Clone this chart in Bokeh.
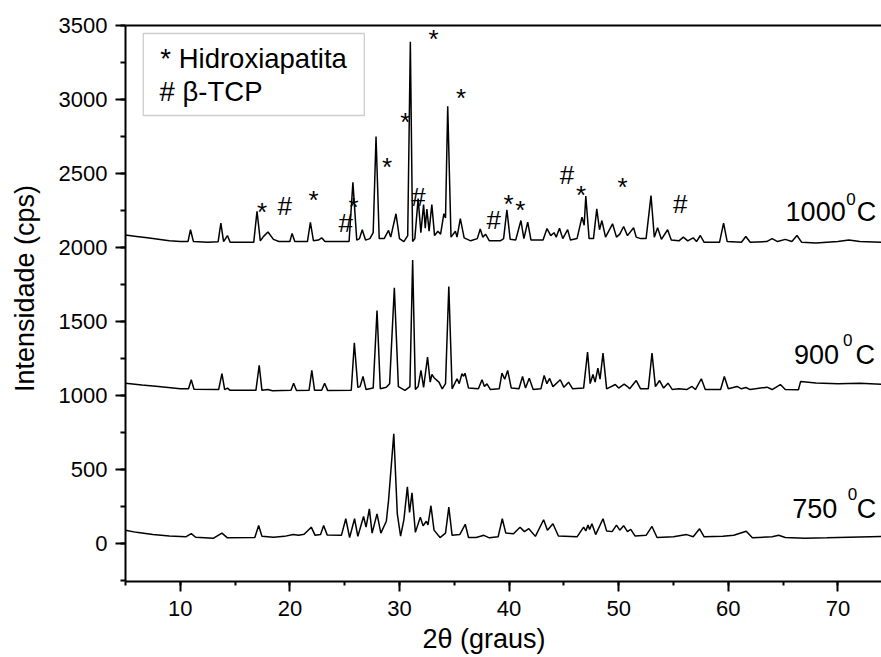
from bokeh.plotting import figure
from bokeh.models import (LinearAxis, SingleIntervalTicker, FixedTicker, BoxAnnotation,
                          Label, Range1d, Title)
from bokeh.core.properties import value
from bokeh.embed import file_html
from bokeh.resources import INLINE

FONT = "Liberation Sans"

# ---------------- data ----------------
t1000_x = [5.0, 6.0, 7.0, 8.0, 9.0, 10.0, 10.7, 10.93, 11.2, 12.5, 13.45, 13.7, 13.95, 14.3, 14.55,
           16.7, 17.0, 17.3, 17.6, 18.0, 18.5, 19.0, 20.0, 20.2, 20.45, 21.6, 21.87, 22.15, 22.6,
           22.9, 23.2, 25.4, 25.75, 26.1, 26.35, 26.6, 26.9, 27.3, 27.6, 27.86, 28.15, 28.6, 29.0,
           29.2, 29.68, 30.0, 30.4, 30.75, 30.99, 31.2, 31.4, 31.7, 31.95, 32.2, 32.35, 32.5, 32.7,
           32.95, 33.2, 33.5, 33.75, 34.05, 34.2, 34.4, 34.7, 35.1, 35.25, 35.55, 35.9, 36.5, 37.1,
           37.37, 37.6, 37.85, 38.2, 39.2, 39.5, 39.8, 40.1, 40.6, 41.08, 41.35, 41.7, 42.0, 43.1,
           43.46, 43.8, 44.1, 44.3, 44.6, 44.9, 45.34, 45.6, 46.2, 46.65, 46.85, 47.0, 47.3, 47.7,
           48.0, 48.25, 48.47, 48.8, 49.44, 49.8, 50.1, 50.45, 50.8, 51.36, 51.6, 52.0, 52.5, 52.95,
           53.25, 53.55, 53.9, 54.46, 54.8, 55.5, 55.9, 56.3, 56.8, 57.1, 57.45, 57.8, 59.2, 59.57,
           59.9, 61.2, 61.6, 62.0, 63.5, 64.0, 64.5, 65.2, 65.8, 66.27, 66.7, 68.0, 70.0, 71.0, 72.0,
           74.0]
t1000_y = [2085, 2075, 2065, 2055, 2045, 2040, 2040, 2120, 2040, 2035, 2038, 2165, 2040, 2080, 2035,
           2035, 2245, 2045, 2075, 2105, 2055, 2040, 2040, 2095, 2040, 2040, 2170, 2045, 2050,
           2065, 2040, 2040, 2440, 2050, 2060, 2120, 2050, 2060, 2100, 2750, 2060, 2060, 2115,
           2070, 2228, 2060, 2040, 2080, 3390, 2040, 2060, 2330, 2100, 2290, 2130, 2260, 2110,
           2290, 2080, 2110, 2090, 2228, 2200, 2955, 2070, 2110, 2070, 2195, 2065, 2045, 2060,
           2125, 2070, 2090, 2045, 2045, 2060, 2255, 2055, 2050, 2182, 2060, 2171, 2050, 2050,
           2128, 2080, 2100, 2070, 2130, 2060, 2121, 2050, 2060, 2205, 2150, 2347, 2060, 2060,
           2261, 2120, 2182, 2070, 2160, 2070, 2090, 2142, 2080, 2133, 2070, 2060, 2060, 2351,
           2070, 2133, 2055, 2120, 2050, 2045, 2070, 2045, 2065, 2040, 2081, 2035, 2035, 2164,
           2040, 2035, 2074, 2035, 2040, 2060, 2040, 2055, 2040, 2081, 2035, 2030, 2040, 2050, 2040,
           2035]

t900_x = [5.0, 6.5, 8.0, 10.0, 10.75, 11.0, 11.25, 13.5, 13.8, 14.05, 14.3, 14.55, 16.9, 17.2, 17.45,
          18.0, 18.4, 20.1, 20.34, 20.6, 21.75, 22.0, 22.25, 22.9, 23.17, 23.45, 25.6, 25.88, 26.2,
          26.4, 26.67, 26.95, 27.6, 27.95, 28.25, 28.8, 29.1, 29.53, 29.9, 30.5, 30.95, 31.2, 31.45,
          31.7, 31.96, 32.2, 32.56, 32.8, 32.96, 33.15, 33.6, 33.9, 34.2, 34.5, 34.8, 35.25, 35.45,
          35.7, 35.85, 35.98, 36.3, 37.2, 37.53, 37.75, 37.98, 38.3, 39.1, 39.35, 39.6, 39.87, 40.2,
          40.9, 41.23, 41.5, 41.84, 42.2, 42.9, 43.2, 43.45, 43.7, 44.0, 44.67, 45.0, 45.43, 45.8,
          46.8, 47.16, 47.4, 47.65, 47.85, 48.1, 48.3, 48.57, 48.9, 49.69, 50.0, 50.5, 50.8, 51.0,
          51.6, 52.0, 52.7, 53.04, 53.35, 53.73, 54.1, 54.5, 54.9, 55.5, 56.2, 56.69, 57.0, 57.54,
          57.9, 59.3, 59.64, 60.0, 60.8, 61.2, 61.6, 62.0, 63.53, 64.0, 64.75, 65.2, 66.4, 66.6,
          68.0, 70.0, 72.0, 74.0]
t900_y = [1083, 1070, 1060, 1045, 1045, 1106, 1042, 1040, 1147, 1040, 1050, 1035, 1035, 1203, 1035,
          1040, 1032, 1035, 1083, 1033, 1035, 1169, 1035, 1035, 1083, 1033, 1035, 1356, 1055,
          1060, 1128, 1040, 1050, 1574, 1045, 1055, 1080, 1728, 1060, 1035, 1060, 1915, 1040,
          1060, 1169, 1055, 1259, 1090, 1142, 1120, 1090, 1045, 1080, 1737, 1045, 1113, 1080,
          1147, 1130, 1150, 1050, 1045, 1106, 1060, 1079, 1040, 1045, 1151, 1110, 1169, 1050,
          1045, 1128, 1050, 1117, 1040, 1045, 1135, 1080, 1115, 1060, 1106, 1055, 1090, 1045,
          1050, 1293, 1080, 1142, 1090, 1185, 1110, 1286, 1045, 1074, 1050, 1076, 1060, 1045,
          1101, 1045, 1045, 1286, 1060, 1101, 1050, 1083, 1040, 1045, 1040, 1061, 1040, 1113,
          1040, 1040, 1128, 1045, 1061, 1045, 1054, 1040, 1056, 1040, 1074, 1040, 1038, 1095,
          1085, 1080, 1082, 1075]

t750_x = [5.0, 6.0, 7.5, 9.0, 10.5, 11.0, 11.4, 13.0, 13.8, 14.3, 16.8, 17.15, 17.45, 18.5, 19.5,
          20.3, 20.8, 21.3, 21.95, 22.3, 22.8, 23.08, 23.4, 24.7, 25.1, 25.45, 25.9, 26.2, 26.72,
          26.95, 27.25, 27.5, 27.95, 28.3, 28.8, 29.0, 29.48, 29.8, 30.1, 30.4, 30.72, 30.92, 31.14,
          31.45, 31.9, 32.15, 32.45, 32.6, 32.87, 33.15, 33.7, 34.2, 34.5, 34.8, 35.5, 36.0, 36.3,
          37.0, 37.7, 38.2, 39.0, 39.38, 39.7, 40.4, 41.0, 41.4, 41.8, 42.4, 43.15, 43.5, 44.0,
          44.5, 46.2, 46.8, 47.0, 47.2, 47.35, 47.56, 47.9, 48.57, 48.9, 49.4, 49.8, 50.1, 50.45,
          50.8, 51.1, 51.5, 52.5, 53.04, 53.5, 55.0, 56.2, 56.8, 57.38, 57.8, 59.5, 60.5, 61.64,
          62.2, 64.0, 64.6, 65.2, 67.0, 69.0, 71.0, 74.0]
t750_y = [90, 75, 60, 50, 45, 66, 42, 35, 70, 38, 40, 122, 48, 42, 48,
          60, 55, 62, 110, 55, 60, 122, 58, 55, 167, 40, 167, 48, 182,
          110, 234, 70, 200, 70, 150, 290, 741, 200, 50, 160, 382, 210, 342,
          75, 178, 120, 150, 125, 255, 90, 40, 70, 245, 55, 60, 130, 40,
          40, 55, 38, 45, 167, 70, 65, 110, 80, 100, 48, 160, 90, 133,
          50, 45, 110, 85, 124, 95, 133, 60, 167, 85, 80, 124, 90, 120,
          80, 95, 50, 55, 115, 40, 45, 60, 45, 99, 45, 48, 55, 83,
          38, 45, 55, 40, 35, 38, 42, 48]

# phase markers above the 1000 C pattern
marker_sym = ["*", "#", "*", "#", "*", "*", "*", "#", "*", "*", "#", "*", "*", "#", "*", "*", "#"]
marker_x = [17.45, 19.52, 22.16, 25.10, 25.81, 28.86, 30.53, 31.74, 33.11, 35.61, 38.59, 39.95,
            41.02, 45.28, 46.56, 50.36, 55.62]
marker_y = [2239, 2278, 2318, 2164, 2273, 2543, 2847, 2339, 3410, 3009, 2188, 2291,
            2255, 2492, 2352, 2412, 2294]

x_ticks_interval = 10
y_ticks_interval = 500

# ---------------- figure ----------------
p = figure(width=881, height=657, output_backend="svg", toolbar_location=None,
           x_range=Range1d(5, 73.98), y_range=Range1d(-257, 3500),
           min_border_left=125, min_border_right=0, min_border_top=25, min_border_bottom=76)
p.outline_line_color = None
p.grid.visible = False
p.background_fill_color = "white"

for xs, ys in ((t750_x, t750_y), (t900_x, t900_y), (t1000_x, t1000_y)):
    p.line(xs, ys, line_color="black", line_width=1.5)

p.text(x=marker_x, y=marker_y, text=marker_sym, text_font=value(FONT), text_font_size="26px",
       text_align="center", text_baseline="alphabetic", text_color="black")

# axes styling
for ax, interval in ((p.xaxis[0], x_ticks_interval), (p.yaxis[0], y_ticks_interval)):
    ax.ticker = SingleIntervalTicker(interval=interval, num_minor_ticks=2)
    ax.axis_line_width = 2
    ax.major_tick_line_width = 2
    ax.minor_tick_line_width = 2
    ax.major_tick_in = 0
    ax.minor_tick_in = 0
    ax.major_tick_out = 10
    ax.major_label_text_font = FONT
    ax.major_label_text_font_size = "22px"
    ax.major_label_text_color = "black"

p.xaxis.minor_tick_out = 4
p.yaxis.minor_tick_out = 5
p.xaxis.major_label_standoff = 9
p.yaxis.major_label_standoff = 8

top = LinearAxis(ticker=FixedTicker(ticks=[]), axis_line_width=2, major_tick_out=0, minor_tick_out=0,
                 major_tick_in=0, minor_tick_in=0, major_label_text_font_size="0px",
                 major_label_standoff=0)
p.add_layout(top, "above")

# y title on a tick-less helper axis; the no-break spaces lift it to where the original sits
ytitle = LinearAxis(ticker=FixedTicker(ticks=[]), axis_line_color=None,
                    major_tick_out=0, minor_tick_out=0, major_tick_in=0, minor_tick_in=0,
                    major_label_text_font_size="0px", major_label_standoff=0,
                    axis_label="\u00a0\u00a0\u00a0\u00a0Intensidade (cps)", axis_label_text_font=FONT,
                    axis_label_text_font_size="27px", axis_label_text_font_style="normal",
                    axis_label_text_color="black", axis_label_standoff=16)
p.add_layout(ytitle, "left")

# x title, placed as in the original (not centred on the frame)
p.add_layout(Title(text="2θ (graus)", text_font=FONT, text_font_size="27px",
                   text_font_style="normal", text_color="black", align="left", offset=297,
                   vertical_align="bottom", standoff=6), "below")

# legend-like text box
p.add_layout(BoxAnnotation(left=6.62, right=26.79, bottom=2892, top=3446,
                           fill_alpha=0, line_color="#555555", line_width=1.3, level="annotation"))
p.add_layout(Label(x=8.18, y=3279, text="* Hidroxiapatita", text_font=FONT, text_font_size="27.5px",
                   text_baseline="alphabetic", text_color="black"))
p.add_layout(Label(x=8.11, y=3054, text="# β-TCP", text_font=FONT, text_font_size="27.5px",
                   text_baseline="alphabetic", text_color="black"))

# temperature labels
temp_labels = [("1000", 65.23, 2243, 70.77, 2329, 71.73),
               ("900", 66.0, 1275, 70.46, 1372, 71.61),
               ("750", 65.84, 235, 70.89, 331, 71.73)]
for txt, xt, yt, xs0, ys0, xc in temp_labels:
    p.add_layout(Label(x=xt, y=yt, text=txt, text_font=FONT, text_font_size="27px",
                       text_baseline="alphabetic", text_color="black"))
    p.add_layout(Label(x=xs0, y=ys0, text="0", text_font=FONT, text_font_size="17px",
                       text_baseline="alphabetic", text_color="black"))
    p.add_layout(Label(x=xc, y=yt, text="C", text_font=FONT, text_font_size="27px",
                       text_baseline="alphabetic", text_color="black"))

open("out.html", "w").write(file_html(p, INLINE))
